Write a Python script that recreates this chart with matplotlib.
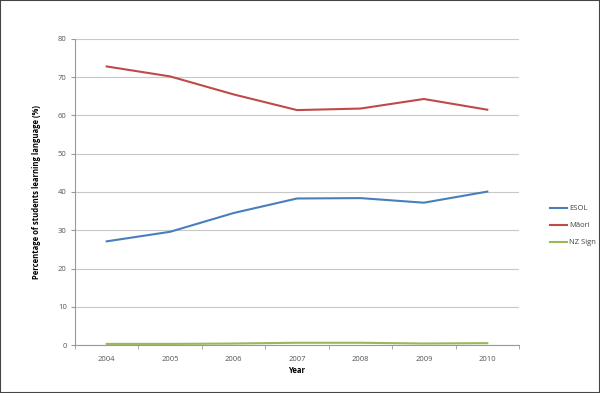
import numpy as np
import matplotlib.pyplot as plt
from matplotlib.patches import Rectangle

years = [2004, 2005, 2006, 2007, 2008, 2009, 2010]
esol = [27.1, 29.6, 34.5, 38.3, 38.4, 37.2, 40.1]
maori = [72.8, 70.2, 65.5, 61.4, 61.8, 64.3, 61.5]
nz_sign = [0.3, 0.3, 0.4, 0.6, 0.6, 0.4, 0.5]

plt.rcParams['font.family'] = ['Open Sans', 'DejaVu Sans']

fig = plt.figure(figsize=(6, 3.93), dpi=100)
ax = fig.add_axes([0.125, 0.122, 0.74, 0.779])

x = np.arange(len(years))
ax.plot(x, esol, color='#4A7EBB', lw=1.5, label='ESOL')
ax.plot(x, maori, color='#BE4B48', lw=1.5, label='Māori')
ax.plot(x, nz_sign, color='#98B954', lw=1.5, label='NZ Sign')

ax.set_xlim(-0.5, len(years) - 0.5)
ax.set_ylim(0, 80)
ax.set_yticks(range(0, 81, 10))
ax.set_xticks(x)
ax.set_xticklabels([str(y) for y in years])
ax.set_xticks(np.arange(-0.5, len(years)), minor=True)
ax.tick_params(axis='x', which='major', length=0, pad=8, labelsize=5.5, colors='#555555')
ax.tick_params(axis='x', which='minor', length=3, color='#999999')
ax.tick_params(axis='y', length=3, color='#999999', labelsize=5.5, labelcolor='#555555', pad=3)

ax.grid(axis='y', color='#C8C8C8', lw=0.8)
ax.set_axisbelow(True)
for s in ['top', 'right']:
    ax.spines[s].set_visible(False)
for s in ['left', 'bottom']:
    ax.spines[s].set_color('#999999')
    ax.spines[s].set_linewidth(0.8)

ax.set_xlabel('Year', fontsize=5.5, fontweight='bold', labelpad=2)
ax.set_ylabel('Percentage of students learning language (%)', fontsize=5.5,
              fontweight='bold', labelpad=12)

ax.legend(loc='center left', bbox_to_anchor=(1.055, 0.39), frameon=False,
          fontsize=5.5, handlelength=2.2, handletextpad=0.3, labelspacing=1.25,
          labelcolor='#444444')

fig.patches.append(Rectangle((0, 0), 1, 1, transform=fig.transFigure,
                             fill=False, edgecolor='#444444', lw=1.5))

fig.savefig('out.png', dpi=100)
